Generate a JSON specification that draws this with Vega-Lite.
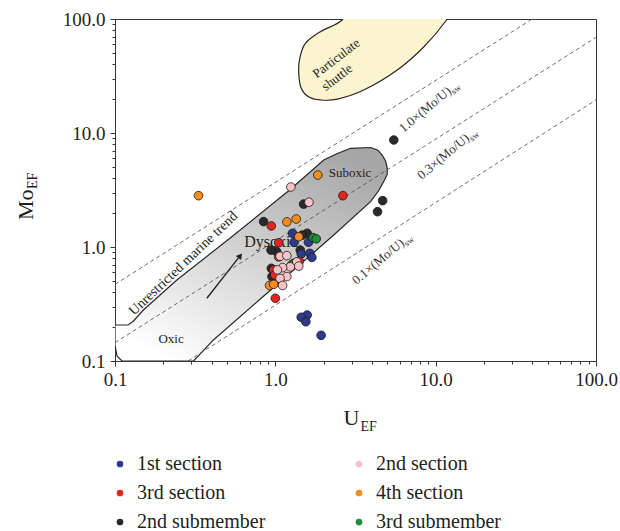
{
  "$schema": "https://vega.github.io/schema/vega-lite/v6.json",
  "width": 481,
  "height": 342,
  "autosize": {"type": "none"},
  "padding": {"left": 115, "top": 19, "right": 24, "bottom": 170},
  "background": "white",
  "config": {
    "view": {"stroke": "#3b3633", "strokeWidth": 1},
    "font": "Liberation Serif",
    "axis": {
      "domainColor": "#3b3633",
      "tickColor": "#3b3633",
      "labelFont": "Liberation Serif",
      "labelFontSize": 19,
      "labelColor": "#231f20",
      "grid": false,
      "labelFlush": false,
      "labelOverlap": false
    }
  },
  "datasets": {
    "dysoxic": [
      {"ord": 1, "u": 0.1, "mo": 0.207},
      {"ord": 2, "u": 0.1206, "mo": 0.207},
      {"ord": 3, "u": 0.1296, "mo": 0.222},
      {"ord": 4, "u": 0.1503, "mo": 0.28},
      {"ord": 5, "u": 0.243, "mo": 0.513},
      {"ord": 6, "u": 0.523, "mo": 1.199},
      {"ord": 7, "u": 1.206, "mo": 3.1},
      {"ord": 8, "u": 2.004, "mo": 5.8},
      {"ord": 9, "u": 2.44, "mo": 6.61},
      {"ord": 10, "u": 2.943, "mo": 7.34},
      {"ord": 11, "u": 3.925, "mo": 7.46},
      {"ord": 12, "u": 4.34, "mo": 7.1},
      {"ord": 13, "u": 4.64, "mo": 6.41},
      {"ord": 14, "u": 4.87, "mo": 5.68},
      {"ord": 15, "u": 4.99, "mo": 4.93},
      {"ord": 16, "u": 4.98, "mo": 4.33},
      {"ord": 17, "u": 4.8, "mo": 3.87},
      {"ord": 18, "u": 4.4, "mo": 3.1},
      {"ord": 19, "u": 3.925, "mo": 2.5},
      {"ord": 20, "u": 2.314, "mo": 1.274},
      {"ord": 21, "u": 0.806, "mo": 0.35},
      {"ord": 22, "u": 0.411, "mo": 0.153},
      {"ord": 23, "u": 0.309, "mo": 0.1},
      {"ord": 24, "u": 0.1106, "mo": 0.1},
      {"ord": 25, "u": 0.1029, "mo": 0.1106},
      {"ord": 26, "u": 0.1, "mo": 0.138}
    ],
    "shuttle": [
      {"ord": 1, "u": 2.61, "mo": 98},
      {"ord": 2, "u": 1.91, "mo": 77.4},
      {"ord": 3, "u": 1.54, "mo": 61.2},
      {"ord": 4, "u": 1.42, "mo": 45.2},
      {"ord": 5, "u": 1.4, "mo": 33.4},
      {"ord": 6, "u": 1.45, "mo": 24.7},
      {"ord": 7, "u": 1.61, "mo": 20.8},
      {"ord": 8, "u": 1.91, "mo": 19.5},
      {"ord": 9, "u": 2.43, "mo": 19.8},
      {"ord": 10, "u": 3.56, "mo": 23.8},
      {"ord": 11, "u": 5.76, "mo": 35.7},
      {"ord": 12, "u": 8.45, "mo": 57.1},
      {"ord": 13, "u": 11.7, "mo": 98},
      {"ord": 14, "u": 13.5, "mo": 140},
      {"ord": 15, "u": 2.9, "mo": 140}
    ],
    "ratios": [
      {"u": 0.1, "mo": 0.47, "u2": 40, "mo2": 100},
      {"u": 0.1, "mo": 0.1447, "u2": 100, "mo2": 69},
      {"u": 0.286, "mo": 0.1, "u2": 100, "mo2": 19.5}
    ],
    "arrow": [
      {"u": 0.374, "mo": 0.355, "u2": 0.604, "mo2": 0.839}
    ],
    "arrowhead": [
      {"u": 0.604, "mo": 0.839}
    ],
    "smallLabels": [
      {"u": 2.154, "mo": 4.11, "label": "Suboxic"},
      {"u": 0.1866, "mo": 0.1438, "label": "Oxic"}
    ],
    "bigLabels": [
      {"u": 0.64, "mo": 1.0, "label": "Dysoxic"}
    ],
    "shuttleLabels": [
      {"u": 2.399, "mo": 45.2, "label": "Particulate"},
      {"u": 2.43, "mo": 30.7, "label": "shuttle"}
    ],
    "trendLabel": [
      {"u": 0.1315, "mo": 0.248, "label": "Unrestricted marine trend"}
    ],
    "ratioLabels": [
      {"u": 6.31, "mo": 10.0, "label": "1.0×(Mo/U)"},
      {"u": 8.18, "mo": 3.87, "label": "0.3×(Mo/U)"},
      {"u": 3.21, "mo": 0.464, "label": "0.1×(Mo/U)"}
    ],
    "ratioSubs": [
      {"u": 13.03, "mo": 21.7, "label": "sw"},
      {"u": 16.9, "mo": 8.4, "label": "sw"},
      {"u": 6.63, "mo": 1.007, "label": "sw"}
    ],
    "xTitle": [{"u": 2.66, "mo": 0.0275, "label": "U"}],
    "xTitleSub": [{"u": 3.4, "mo": 0.0243, "label": "EF"}],
    "yTitle": [{"u": 0.0307, "mo": 1.726, "label": "Mo"}],
    "yTitleSub": [{"u": 0.0326, "mo": 3.23, "label": "EF"}],
    "pts": [
      {"u": 5.48, "mo": 8.68, "group": "2nd submember"},
      {"u": 4.67, "mo": 2.55, "group": "2nd submember"},
      {"u": 4.34, "mo": 2.04, "group": "2nd submember"},
      {"u": 1.5, "mo": 2.38, "group": "2nd submember"},
      {"u": 0.845, "mo": 1.67, "group": "2nd submember"},
      {"u": 1.58, "mo": 1.32, "group": "2nd submember"},
      {"u": 1.47, "mo": 1.27, "group": "2nd submember"},
      {"u": 1.43, "mo": 0.94, "group": "2nd submember"},
      {"u": 1.02, "mo": 0.91, "group": "2nd submember"},
      {"u": 0.94, "mo": 0.94, "group": "2nd submember"},
      {"u": 0.953, "mo": 0.55, "group": "2nd submember"},
      {"u": 0.944, "mo": 0.65, "group": "2nd submember"},
      {"u": 1.28, "mo": 1.32, "group": "1st section"},
      {"u": 1.31, "mo": 1.1, "group": "1st section"},
      {"u": 1.61, "mo": 1.1, "group": "1st section"},
      {"u": 1.45, "mo": 0.87, "group": "1st section"},
      {"u": 1.64, "mo": 0.88, "group": "1st section"},
      {"u": 1.69, "mo": 0.81, "group": "1st section"},
      {"u": 1.58, "mo": 0.253, "group": "1st section"},
      {"u": 1.45, "mo": 0.242, "group": "1st section"},
      {"u": 1.55, "mo": 0.221, "group": "1st section"},
      {"u": 1.93, "mo": 0.168, "group": "1st section"},
      {"u": 0.332, "mo": 2.82, "group": "4th section"},
      {"u": 1.84, "mo": 4.28, "group": "4th section"},
      {"u": 1.18, "mo": 1.66, "group": "4th section"},
      {"u": 1.35, "mo": 1.76, "group": "4th section"},
      {"u": 1.4, "mo": 1.23, "group": "4th section"},
      {"u": 0.92, "mo": 0.46, "group": "4th section"},
      {"u": 0.976, "mo": 0.47, "group": "4th section"},
      {"u": 2.64, "mo": 2.82, "group": "3rd section"},
      {"u": 0.944, "mo": 1.53, "group": "3rd section"},
      {"u": 1.05, "mo": 1.09, "group": "3rd section"},
      {"u": 1.05, "mo": 0.82, "group": "3rd section"},
      {"u": 1.3, "mo": 0.72, "group": "3rd section"},
      {"u": 1.41, "mo": 0.75, "group": "3rd section"},
      {"u": 0.976, "mo": 0.63, "group": "3rd section"},
      {"u": 0.99, "mo": 0.57, "group": "3rd section"},
      {"u": 1.0, "mo": 0.355, "group": "3rd section"},
      {"u": 1.72, "mo": 1.21, "group": "3rd submember"},
      {"u": 1.8, "mo": 1.18, "group": "3rd submember"},
      {"u": 1.26, "mo": 0.695, "group": "3rd submember"},
      {"u": 1.25, "mo": 3.36, "group": "2nd section"},
      {"u": 1.62, "mo": 2.47, "group": "2nd section"},
      {"u": 1.07, "mo": 0.83, "group": "2nd section"},
      {"u": 1.18, "mo": 0.84, "group": "2nd section"},
      {"u": 1.36, "mo": 0.74, "group": "2nd section"},
      {"u": 1.4, "mo": 0.68, "group": "2nd section"},
      {"u": 1.24, "mo": 0.67, "group": "2nd section"},
      {"u": 1.11, "mo": 0.66, "group": "2nd section"},
      {"u": 1.03, "mo": 0.63, "group": "2nd section"},
      {"u": 1.18, "mo": 0.55, "group": "2nd section"},
      {"u": 1.07, "mo": 0.53, "group": "2nd section"},
      {"u": 1.11, "mo": 0.46, "group": "2nd section"}
    ]
  },
  "encoding": {
    "x": {
      "field": "u", "type": "quantitative",
      "scale": {"type": "log", "domain": [0.1, 100]},
      "axis": {
        "title": null,
        "values": [0.1, 0.2, 0.3, 0.4, 0.5, 0.6, 0.7, 0.8, 0.9, 1, 2, 3, 4, 5, 6, 7, 8, 9, 10, 20, 30, 40, 50, 60, 70, 80, 90, 100],
        "labelExpr": "indexof([0.1, 1, 10, 100], datum.value) >= 0 ? format(datum.value, '.1f') : ''",
        "tickSize": {"condition": {"test": "indexof([0.1, 1, 10, 100], datum.value) >= 0", "value": 5}, "value": 3},
        "labelPadding": 4
      }
    },
    "y": {
      "field": "mo", "type": "quantitative",
      "scale": {"type": "log", "domain": [0.1, 100]},
      "axis": {
        "title": null,
        "values": [0.1, 0.2, 0.3, 0.4, 0.5, 0.6, 0.7, 0.8, 0.9, 1, 2, 3, 4, 5, 6, 7, 8, 9, 10, 20, 30, 40, 50, 60, 70, 80, 90, 100],
        "labelExpr": "indexof([0.1, 1, 10, 100], datum.value) >= 0 ? format(datum.value, '.1f') : ''",
        "tickSize": {"condition": {"test": "indexof([0.1, 1, 10, 100], datum.value) >= 0", "value": 5}, "value": 3},
        "labelPadding": 5
      }
    }
  },
  "layer": [
    {
      "data": {"name": "dysoxic"},
      "mark": {
        "type": "line", "interpolate": "linear-closed", "clip": true,
        "stroke": "#2b2623", "strokeWidth": 1.2,
        "fill": {"gradient": "linear", "x1": 0.2, "y1": 1, "x2": 0.8, "y2": 0,
          "stops": [{"offset": 0, "color": "#ffffff"}, {"offset": 1, "color": "#a6a6a6"}]}
      },
      "encoding": {"order": {"field": "ord", "type": "quantitative"}}
    },
    {
      "data": {"name": "shuttle"},
      "mark": {
        "type": "line", "interpolate": "cardinal-closed", "clip": true,
        "stroke": "#2b2623", "strokeWidth": 1.2, "fill": "#fcf3cf"
      },
      "encoding": {"order": {"field": "ord", "type": "quantitative"}}
    },
    {
      "data": {"name": "ratios"},
      "mark": {"type": "rule", "clip": true, "stroke": "#4a4a4a", "strokeWidth": 0.8, "strokeDash": [4, 3]},
      "encoding": {"x2": {"field": "u2"}, "y2": {"field": "mo2"}}
    },
    {
      "data": {"name": "arrow"},
      "mark": {"type": "rule", "stroke": "#231f20", "strokeWidth": 1.3},
      "encoding": {"x2": {"field": "u2"}, "y2": {"field": "mo2"}}
    },
    {
      "data": {"name": "arrowhead"},
      "mark": {"type": "point", "shape": "triangle-up", "filled": true, "size": 45, "angle": 38, "color": "#231f20", "opacity": 1}
    },
    {
      "data": {"name": "smallLabels"},
      "mark": {"type": "text", "font": "Liberation Serif", "fontSize": 13, "align": "left", "baseline": "alphabetic", "color": "#231f20"},
      "encoding": {"text": {"field": "label"}}
    },
    {
      "data": {"name": "bigLabels"},
      "mark": {"type": "text", "font": "Liberation Serif", "fontSize": 16, "align": "left", "baseline": "alphabetic", "color": "#231f20"},
      "encoding": {"text": {"field": "label"}}
    },
    {
      "data": {"name": "shuttleLabels"},
      "mark": {"type": "text", "font": "Liberation Serif", "fontSize": 13, "align": "center", "baseline": "middle", "angle": -37.6, "color": "#231f20"},
      "encoding": {"text": {"field": "label"}}
    },
    {
      "data": {"name": "trendLabel"},
      "mark": {"type": "text", "font": "Liberation Serif", "fontSize": 14, "align": "left", "baseline": "alphabetic", "angle": -43.5, "color": "#231f20"},
      "encoding": {"text": {"field": "label"}}
    },
    {
      "data": {"name": "ratioLabels"},
      "mark": {"type": "text", "font": "Liberation Serif", "fontSize": 13, "align": "left", "baseline": "alphabetic", "angle": -40, "color": "#333333"},
      "encoding": {"text": {"field": "label"}}
    },
    {
      "data": {"name": "ratioSubs"},
      "mark": {"type": "text", "font": "Liberation Serif", "fontSize": 9, "align": "left", "baseline": "alphabetic", "angle": -40, "color": "#333333"},
      "encoding": {"text": {"field": "label"}}
    },
    {
      "data": {"name": "xTitle"},
      "mark": {"type": "text", "font": "Liberation Serif", "fontSize": 22, "align": "left", "baseline": "alphabetic", "color": "#231f20"},
      "encoding": {"text": {"field": "label"}}
    },
    {
      "data": {"name": "xTitleSub"},
      "mark": {"type": "text", "font": "Liberation Serif", "fontSize": 14, "align": "left", "baseline": "alphabetic", "color": "#231f20"},
      "encoding": {"text": {"field": "label"}}
    },
    {
      "data": {"name": "yTitle"},
      "mark": {"type": "text", "font": "Liberation Serif", "fontSize": 22, "align": "left", "baseline": "alphabetic", "angle": -90, "color": "#231f20"},
      "encoding": {"text": {"field": "label"}}
    },
    {
      "data": {"name": "yTitleSub"},
      "mark": {"type": "text", "font": "Liberation Serif", "fontSize": 14, "align": "left", "baseline": "alphabetic", "angle": -90, "color": "#231f20"},
      "encoding": {"text": {"field": "label"}}
    },
    {
      "data": {"name": "pts"},
      "mark": {"type": "point", "filled": true, "size": 75, "stroke": "#1a1a1a", "strokeWidth": 0.8, "opacity": 1},
      "encoding": {
        "color": {
          "field": "group", "type": "nominal",
          "scale": {
            "domain": ["1st section", "3rd section", "2nd submember", "2nd section", "4th section", "3rd submember"],
            "range": ["#2e3a8c", "#e2261f", "#2a2a2a", "#f7c3c7", "#f68b1f", "#1e8c3a"]
          },
          "legend": {
            "title": null,
            "orient": "none",
            "legendX": -5,
            "legendY": 435,
            "columns": 2,
            "columnPadding": 83,
            "rowPadding": 9,
            "symbolType": "circle",
            "symbolSize": 45,
            "symbolStrokeWidth": 0,
            "labelFont": "Liberation Serif",
            "labelFontSize": 20,
            "labelColor": "#231f20",
            "labelOffset": 7
          }
        }
      }
    }
  ]
}
